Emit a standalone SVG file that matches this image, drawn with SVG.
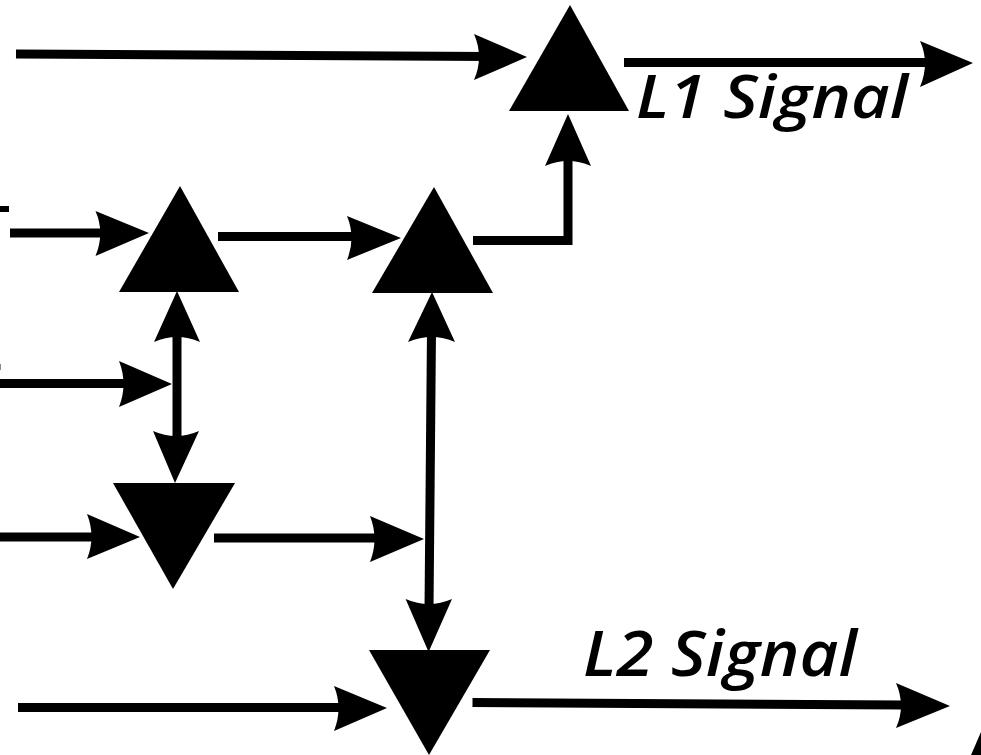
<svg xmlns="http://www.w3.org/2000/svg" width="981" height="755" viewBox="0 0 981 755">
<style>
.c{fill:none;stroke:#000;stroke-width:9}
.h,.n{fill:#000}
text{font-family:"Open Sans","DejaVu Sans",sans-serif;font-style:italic;font-weight:600;fill:#000}
</style>
<rect width="981" height="755" fill="#fff"/>
<g id="connectors">
<path class="c" d="M16 54L490 56.500"/><path class="h" d="M474 34Q484 57 474 80L527 57Z"/>
<path class="c" d="M624 62.500H930"/><path class="h" d="M920 41Q930 63 920 87L973 63Z"/>
<path class="c" d="M10 233H105"/><path class="h" d="M95.500 211Q105 233 95.500 256L149 233Z"/>
<path class="c" d="M218 236.500H355"/><path class="h" d="M347 216Q356 238 347 260L401 238Z"/>
<path class="c" d="M473 240.500H568V155"/><path class="h" d="M568 114L545 166Q568 156 591 166Z"/>
<path class="c" d="M0 383.500H130"/><path class="h" d="M119 361Q128 384 119 407L172 384Z"/>
<path class="c" d="M177 330V445"/><path class="h" d="M177 291L154 342Q177 332 200 342Z"/><path class="h" d="M175 483L153 431Q176 441 199 431Z"/>
<path class="c" d="M0 537H95"/><path class="h" d="M87 514Q96 537 87 559L140 537Z"/>
<path class="c" d="M214 538H380"/><path class="h" d="M370 516Q379 539 370 562L424 539Z"/>
<path class="c" d="M431.500 330L429 610"/><path class="h" d="M432 292L408 342Q432 332 455 342Z"/><path class="h" d="M428.600 652L405.600 599Q429 609 452 599Z"/>
<path class="c" d="M18 707.500H345"/><path class="h" d="M334 686Q343 708 334 731L387 708Z"/>
<path class="c" d="M472.500 702.500L905 705"/><path class="h" d="M896 683Q906 706 896 728L950 706Z"/>
</g>
<g id="node-l1"><polygon class="n" points="570,5 509,111 629,111"/></g>
<g id="node-a1"><polygon class="n" points="180,186 119,292 239,292"/></g>
<g id="node-a2"><polygon class="n" points="434,187 372,293 493,293"/></g>
<g id="node-b1"><polygon class="n" points="173,589 113,483 235,483"/></g>
<g id="node-l2"><polygon class="n" points="429,755 369,650 490,650"/></g>
<g id="marks">
<rect x="0" y="206" width="9" height="6"/>
<rect x="0" y="364" width="1" height="6" fill="#888"/>
<path class="h" d="M981 732V755H971Z"/>
</g>
<text id="label-l1" x="636" y="118" font-size="60" textLength="272" lengthAdjust="spacingAndGlyphs">L1 Signal</text>
<text id="label-l2" x="583" y="676" font-size="63" textLength="274" lengthAdjust="spacingAndGlyphs">L2 Signal</text>
</svg>
